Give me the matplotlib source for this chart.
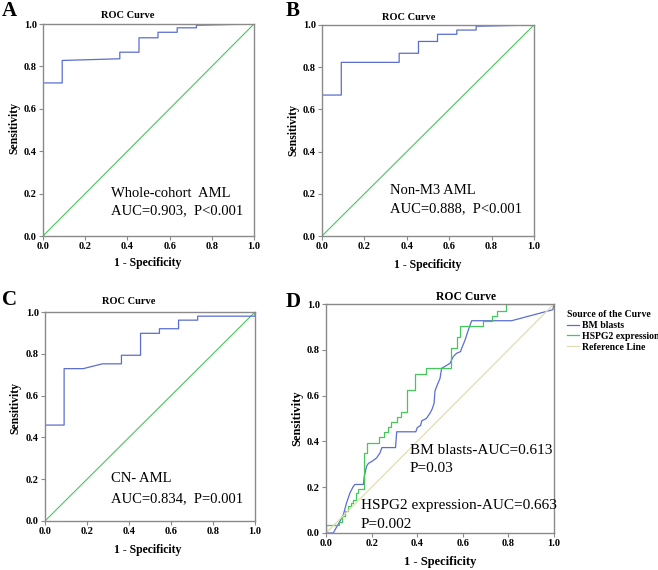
import matplotlib
matplotlib.use("Agg")
import matplotlib.pyplot as plt

plt.rcParams['font.family'] = ['Liberation Serif', 'DejaVu Serif']

# ---------------- data ----------------
fpr_A = [0, 0, 0.091, 0.091, 0.364, 0.364, 0.455, 0.455, 0.545, 0.545, 0.636, 0.636, 0.727, 0.727, 1.0]
tpr_A = [0, 0.722, 0.722, 0.828, 0.836, 0.867, 0.867, 0.935, 0.935, 0.961, 0.961, 0.982, 0.982, 0.994, 1.0]

fpr_B = [0, 0, 0.091, 0.091, 0.364, 0.364, 0.455, 0.455, 0.545, 0.545, 0.636, 0.636, 0.727, 0.727, 1.0]
tpr_B = [0, 0.668, 0.668, 0.823, 0.823, 0.866, 0.866, 0.922, 0.922, 0.956, 0.956, 0.976, 0.976, 0.994, 1.0]

fpr_C = [0, 0, 0.091, 0.091, 0.182, 0.273, 0.364, 0.364, 0.455, 0.455, 0.545, 0.545, 0.636, 0.636, 0.727, 0.727, 1.0, 1.0]
tpr_C = [0, 0.459, 0.459, 0.729, 0.729, 0.752, 0.752, 0.793, 0.793, 0.898, 0.898, 0.920, 0.920, 0.961, 0.961, 0.980, 0.980, 1.0]

fpr_hspg2 = [0, 0, 0.058, 0.058, 0.07, 0.07, 0.083, 0.083, 0.098, 0.098, 0.11, 0.11, 0.12, 0.12,
             0.13, 0.13, 0.142, 0.142, 0.167, 0.167, 0.18, 0.18, 0.232, 0.232, 0.255, 0.255,
             0.27, 0.27, 0.285, 0.285, 0.31, 0.31, 0.33, 0.33, 0.357, 0.357, 0.39, 0.39,
             0.44, 0.44, 0.547, 0.547, 0.573, 0.573, 0.588, 0.588, 0.687, 0.687, 0.727, 0.727,
             0.749, 0.749, 0.789, 0.789, 1.0]
tpr_hspg2 = [0, 0.035, 0.035, 0.05, 0.05, 0.073, 0.073, 0.095, 0.095, 0.117, 0.117, 0.131, 0.131, 0.146,
             0.146, 0.175, 0.175, 0.19, 0.19, 0.35, 0.35, 0.395, 0.395, 0.42, 0.42, 0.442,
             0.442, 0.464, 0.464, 0.486, 0.486, 0.508, 0.508, 0.53, 0.53, 0.624, 0.624, 0.693,
             0.693, 0.722, 0.722, 0.81, 0.81, 0.857, 0.857, 0.904, 0.904, 0.926, 0.926, 0.948,
             0.948, 0.971, 0.971, 1.0, 1.0]

fpr_blasts = [0, 0.032, 0.044, 0.061, 0.076, 0.09, 0.105, 0.12, 0.127, 0.164, 0.168, 0.178, 0.186, 0.205,
              0.222, 0.237, 0.245, 0.305, 0.31, 0.394, 0.40, 0.415, 0.42, 0.44, 0.456, 0.465, 0.474, 0.478,
              0.485, 0.5, 0.507, 0.544, 0.558, 0.573, 0.59, 0.595, 0.61, 0.624, 0.639, 0.814, 0.995, 1.0]
tpr_blasts = [0, 0, 0.022, 0.051, 0.08, 0.131, 0.175, 0.204, 0.212, 0.212, 0.248, 0.292, 0.304, 0.315,
              0.328, 0.35, 0.373, 0.373, 0.442, 0.442, 0.46, 0.47, 0.49, 0.50, 0.523, 0.54, 0.566, 0.62,
              0.639, 0.675, 0.719, 0.741, 0.77, 0.785, 0.792, 0.806, 0.843, 0.886, 0.927, 0.927, 0.975, 1.0]

ref_line = [0, 1]
ticks = [0.0, 0.2, 0.4, 0.6, 0.8, 1.0]

annot_A = ["Whole-cohort  AML", "AUC=0.903,  P<0.001"]
annot_B = ["Non-M3 AML", "AUC=0.888,  P<0.001"]
annot_C = ["CN- AML", "AUC=0.834,  P=0.001"]
annot_D1 = ["BM blasts-AUC=0.613", "P=0.03"]
annot_D2 = ["HSPG2 expression-AUC=0.663", "P=0.002"]

# ---------------- style ----------------
BLUE = '#5a6ed2'
GREEN = '#45c85a'
REF = '#e2ddb0'
GRAY = '#8a8a8a'
W, H = 658, 570

fig = plt.figure(figsize=(W / 100, H / 100), dpi=100)


def make_ax(x0, y0, x1, y1):
    ax = fig.add_axes([x0 / W, 1 - y1 / H, (x1 - x0) / W, (y1 - y0) / H])
    ax.set_xlim(0, 1)
    ax.set_ylim(0, 1)
    for s in ax.spines.values():
        s.set_color(GRAY)
        s.set_linewidth(1.0)
    ax.set_xticks(ticks)
    ax.set_yticks(ticks)
    ax.set_xticklabels([f"{t:.1f}" for t in ticks], fontweight='bold', fontsize=7.5)
    ax.set_yticklabels([f"{t:.1f}" for t in ticks], fontweight='bold', fontsize=7.5)
    ax.tick_params(direction='out', length=3, width=0.8, color=GRAY, pad=1.5)
    return ax


def label_texts(ax, title_xy, ylab_xy, xlab_xy, size=8.5, tsize=7.5):
    fig.text(title_xy[0] / W, 1 - title_xy[1] / H, "ROC Curve", fontweight='bold',
             fontsize=tsize, ha='center', va='center')
    fig.text(ylab_xy[0] / W, 1 - ylab_xy[1] / H, "Sensitivity", fontweight='bold',
             fontsize=size, ha='center', va='center', rotation=90)
    fig.text(xlab_xy[0] / W, 1 - xlab_xy[1] / H, "1 - Specificity", fontweight='bold',
             fontsize=size, ha='center', va='center')


def two_lines(ax, x, y1, y2, lines, size=10.5):
    ax.text(x, y1, lines[0], fontsize=size, ha='left', va='center')
    ax.text(x, y2, lines[1], fontsize=size, ha='left', va='center')


# Panel A
axA = make_ax(43, 24, 254, 236)
axA.plot(ref_line, ref_line, color=GREEN, lw=0.8)
axA.plot(fpr_A, tpr_A, color=BLUE, lw=0.9)
two_lines(axA, 0.32, 0.20, 0.118, annot_A)
label_texts(axA, (128, 16), (14, 128), (148, 263))

# Panel B
axB = make_ax(322, 25, 534, 236)
axB.plot(ref_line, ref_line, color=GREEN, lw=0.8)
axB.plot(fpr_B, tpr_B, color=BLUE, lw=0.9)
two_lines(axB, 0.32, 0.215, 0.128, annot_B)
label_texts(axB, (409, 17), (293, 130), (428, 265))

# Panel C
axC = make_ax(45, 312, 255, 521)
axC.plot(ref_line, ref_line, color=GREEN, lw=0.8)
axC.plot(fpr_C, tpr_C, color=BLUE, lw=0.9)
two_lines(axC, 0.313, 0.204, 0.108, annot_C)
label_texts(axC, (129, 302), (15, 408), (148, 550))

# Panel D
axD = make_ax(326, 304, 554, 533)
lb, = axD.plot(fpr_blasts, tpr_blasts, color=BLUE, lw=0.9, label="BM blasts")
lg, = axD.plot(fpr_hspg2, tpr_hspg2, color=GREEN, lw=0.9, label="HSPG2 expression")
lr, = axD.plot(ref_line, ref_line, color=REF, lw=0.9, label="Reference Line")
two_lines(axD, 0.368, 0.362, 0.282, annot_D1, size=11)
two_lines(axD, 0.152, 0.122, 0.038, annot_D2, size=11)
label_texts(axD, (466, 297), (297, 418), (440, 562), size=9, tsize=8.4)

leg = fig.legend(handles=[lb, lg, lr], loc='upper left',
                 bbox_to_anchor=(567 / W, 1 - 310 / H), frameon=False,
                 title="Source of the Curve",
                 prop={'weight': 'bold', 'size': 7},
                 title_fontproperties={'weight': 'bold', 'size': 7},
                 handlelength=1.25, handletextpad=0.25, labelspacing=0.2,
                 borderpad=0, borderaxespad=0, alignment='left')

# Panel letters
for letter, (x, y) in zip("ABCD", [(2, 11), (286, 11), (2, 300), (286, 302)]):
    fig.text(x / W, 1 - y / H, letter, fontweight='bold', fontsize=15,
             ha='left', va='center')

fig.savefig("out.png", dpi=100)
